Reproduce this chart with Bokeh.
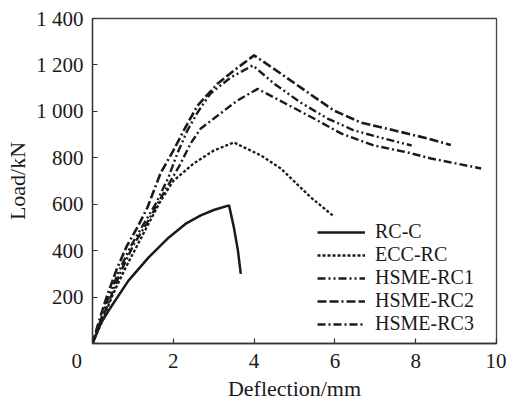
from bokeh.plotting import figure
from bokeh.models import FixedTicker, Legend, LegendItem, Range1d
from bokeh.embed import file_html
from bokeh.resources import INLINE

# ---- data ----
rcc_x = [0, 0.2, 0.4, 0.89, 1.39, 1.89, 2.3, 2.68, 3.0, 3.38, 3.5, 3.6, 3.67]
rcc_y = [0, 85, 142, 271, 371, 457, 515, 552, 575, 595, 500, 400, 300]

ecc_x = [0, 0.25, 0.5, 0.8, 1.1, 1.4, 1.69, 2.0, 2.5, 3.0, 3.5, 4.17, 4.66, 5.4, 5.95]
ecc_y = [0, 100, 210, 320, 420, 520, 616, 700, 775, 831, 866, 810, 754, 630, 551]

rc1_x = [0, 0.18, 0.4, 0.65, 0.95, 1.25, 1.56, 1.88, 2.1, 2.35, 2.6, 2.92, 3.42, 3.97,
         4.49, 5.15, 5.82, 6.47, 7.21, 7.9]
rc1_y = [0, 90, 200, 310, 420, 510, 600, 715, 819, 918, 995, 1077, 1146, 1198,
         1120, 1038, 969, 918, 883, 853]

rc2_x = [0, 0.15, 0.35, 0.6, 0.85, 1.11, 1.36, 1.68, 2.0, 2.3, 2.6, 3.1, 3.5, 4.0,
         4.66, 5.33, 5.97, 6.64, 7.3, 8.3, 8.87]
rc2_y = [0, 90, 200, 320, 420, 500, 586, 732, 831, 931, 1025, 1120, 1176, 1241,
         1163, 1081, 1004, 952, 925, 883, 855]

rc3_x = [0, 0.2, 0.45, 0.7, 1.0, 1.35, 1.7, 2.0, 2.18, 2.43, 2.68, 3.1, 3.59, 4.09,
         4.73, 5.48, 6.15, 6.96, 7.8, 8.38, 9.62]
rc3_y = [0, 90, 200, 310, 420, 520, 630, 720, 775, 862, 926, 982, 1047, 1097,
         1038, 969, 905, 853, 823, 797, 754]

series_names = ["RC-C", "ECC-RC", "HSME-RC1", "HSME-RC2", "HSME-RC3"]
x_ticks = [0, 2, 4, 6, 8, 10]
x_tick_labels = ["0\u00a0\u00a0\u00a0\u00a0\u00a0\u00a0", "2", "4", "6", "8", "10"]
y_ticks = [200, 400, 600, 800, 1000, 1200, 1400]
y_tick_labels = ["200", "400", "600", "800", "1 000", "1 200", "1 400"]

FONT = "Liberation Serif"

p = figure(frame_width=404, frame_height=325, output_backend="svg", toolbar_location=None,
           x_range=Range1d(0, 10), y_range=Range1d(0, 1400),
           min_border_left=92, min_border_right=10, min_border_top=18, min_border_bottom=50)
p.background_fill_color = "white"
p.outline_line_color = "#444444"
p.outline_line_width = 1.3
p.grid.visible = False

dashes = ["solid", "3 2", "8 3 2 3 2 3", "9 3 9 3 2 3", "8 3 2 3"]
xs = [rcc_x, ecc_x, rc1_x, rc2_x, rc3_x]
ys = [rcc_y, ecc_y, rc1_y, rc2_y, rc3_y]
widths = [2.5, 2.3, 2.4, 2.6, 2.4]
items = []
for name, x, y, d, w in zip(series_names, xs, ys, dashes, widths):
    r = p.line(x, y, line_color="#1a1a1a", line_width=w, line_dash=d)
    items.append(LegendItem(label=name, renderers=[r]))

legend = Legend(items=items, location=(225, 8))
legend.label_text_font = FONT
legend.label_text_font_size = "20px"
legend.label_text_color = "#1a1a1a"
legend.glyph_width = 48
legend.glyph_height = 18
legend.label_height = 18
legend.spacing = 0
legend.label_standoff = 10
legend.padding = 0
legend.margin = 0
legend.border_line_alpha = 0
legend.background_fill_alpha = 0
p.add_layout(legend)

for ax in (p.xaxis[0], p.yaxis[0]):
    ax.major_tick_in = 5
    ax.major_tick_out = 0
    ax.minor_tick_in = 0
    ax.minor_tick_out = 0
    ax.axis_line_color = "#333333"
    ax.axis_line_width = 1.3
    ax.major_tick_line_color = "#333333"
    ax.major_tick_line_width = 1.2
    ax.major_label_text_font = FONT
    ax.major_label_text_font_size = "21px"
    ax.major_label_text_color = "#1a1a1a"
    ax.axis_label_text_font = FONT
    ax.axis_label_text_font_size = "22px"
    ax.axis_label_text_font_style = "normal"
    ax.axis_label_text_color = "#1a1a1a"

p.xaxis.ticker = FixedTicker(ticks=x_ticks)
p.yaxis.ticker = FixedTicker(ticks=y_ticks)
p.xaxis.major_label_overrides = {t: l for t, l in zip(x_ticks, x_tick_labels)}
p.yaxis.major_label_overrides = {t: l for t, l in zip(y_ticks, y_tick_labels)}
p.xaxis.axis_label = "Deflection/mm"
p.yaxis.axis_label = "Load/kN"
p.xaxis.major_label_standoff = 5
p.xaxis.axis_label_standoff = 0
p.yaxis.major_label_standoff = 9
p.yaxis.axis_label_standoff = 3

open("out.html", "w").write(file_html(p, INLINE))
